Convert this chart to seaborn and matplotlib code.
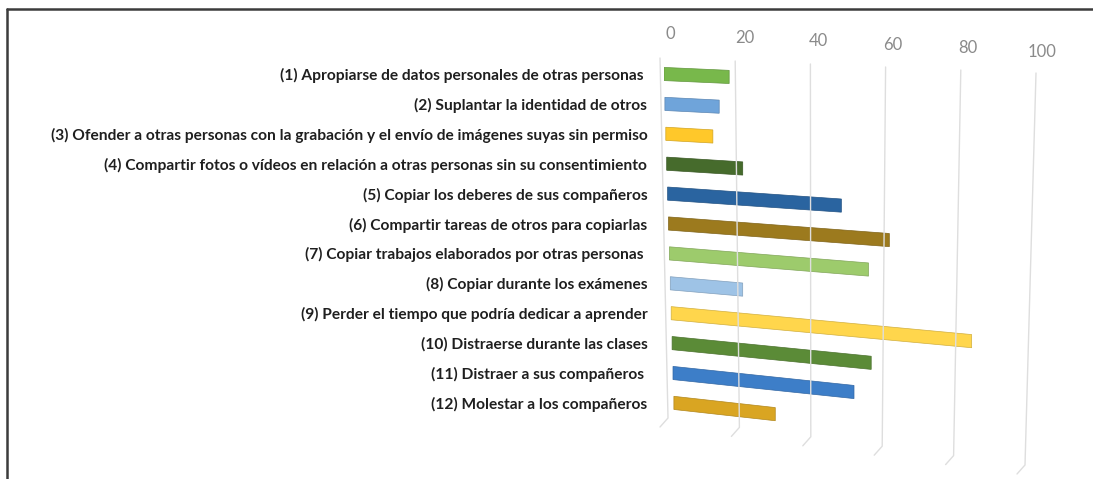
import numpy as np
import pandas as pd
import matplotlib
matplotlib.use("Agg")
import matplotlib.pyplot as plt
from matplotlib.lines import Line2D
from matplotlib.transforms import Affine2D, IdentityTransform
import seaborn as sns

categories = [
    "(1) Apropiarse de datos personales de otras personas ",
    "(2) Suplantar la identidad de otros",
    "(3) Ofender a otras personas con la grabación y el envío de imágenes suyas sin permiso",
    "(4) Compartir fotos o vídeos en relación a otras personas sin su consentimiento",
    "(5) Copiar los deberes de sus compañeros",
    "(6) Compartir tareas de otros para copiarlas",
    "(7) Copiar trabajos elaborados por otras personas ",
    "(8) Copiar durante los exámenes",
    "(9) Perder el tiempo que podría dedicar a aprender",
    "(10) Distraerse durante las clases",
    "(11) Distraer a sus compañeros ",
    "(12) Molestar a los compañeros",
]
values = [18, 15, 13, 21, 48, 61, 55, 20, 83, 55, 50, 28]
colors = ["#78B84B", "#6FA4DA", "#FFC82A", "#466B2C", "#2A64A0", "#9C7A1E",
          "#9DCB6C", "#9EC3E6", "#FFD64C", "#5B8B37", "#3D7EC8", "#D9A522"]
xticks = [0, 20, 40, 60, 80, 100]

W, H = 1093, 479
sns.set_theme(style="white")
plt.rcParams["font.family"] = ["Lato", "DejaVu Sans"]

fig = plt.figure(figsize=(W / 100, H / 100), dpi=100)
fig.patch.set_facecolor("white")

# axes placement in pixels (top-left origin)
ax_left, ax_width = 664, 362
ax_top, ax_bottom = 14, 474
ax = fig.add_axes([ax_left / W, 1 - ax_bottom / H, ax_width / W, (ax_bottom - ax_top) / H])

df = pd.DataFrame({"label": categories, "value": values})
sns.barplot(data=df, y="label", x="value", hue="label", palette=colors,
            legend=False, width=0.44, orient="h", ax=ax, saturation=1)

ax.set_xlim(0, 100)
row0, spacing = 74, 29.9
ax.set_ylim((ax_bottom - row0) / spacing, (ax_top - row0) / spacing)
for s in ax.spines.values():
    s.set_visible(False)
ax.set_xlabel("")
ax.set_ylabel("")
ax.set_xticks([])
ax.tick_params(axis="y", length=0, pad=12)
for t in ax.get_yticklabels():
    t.set_fontsize(11.2)
    t.set_fontweight("bold")
    t.set_color("#1f1f1f")
ax.set_facecolor("none")

fig.canvas.draw()

def shade(c, f=0.82):
    r, g, b = matplotlib.colors.to_rgb(c)
    return (r * f, g * f, b * f)

# perspective-like shear on the bars
x0 = ax.transData.transform((0, 0))[0]
for i, p in enumerate(ax.patches):
    k = 0.045 + 0.006 * i
    shift = 0.9 * i
    M = np.array([[1, 0, shift], [-k, 1, k * x0], [0, 0, 1]])
    p.set_transform(ax.transData + Affine2D(M))
    p.set_edgecolor(shade(colors[i]))
    p.set_linewidth(0.5)
    p.set_zorder(3)

# slanted gridlines with floor kink and tick labels (display coords)
for v in xticks:
    xp = ax.transData.transform((v, 0))[0]
    x_top = xp + (-4 + 0.14 * v)
    x_bot = xp + (4 - 0.05 * v)
    y_top = H - (58 + 0.15 * v)
    y_kink = H - (418 + 0.47 * v)
    ln = Line2D([x_top, x_bot, x_bot - 8], [y_top, y_kink, y_kink - 9],
                transform=IdentityTransform(), color="#dedede", lw=1.0, zorder=1)
    fig.add_artist(ln)
    fig.text(x_top + 10 - 0.04 * v, H - (34 + 0.18 * v), str(v), transform=IdentityTransform(),
             ha="center", va="center", fontsize=12, color="#8a8a8a")

# outer frame (top and left)
fig.add_artist(Line2D([7 / W, 7 / W], [0, 1 - 9 / H], transform=fig.transFigure,
                      color="#3c3c3c", lw=1.8))
fig.add_artist(Line2D([7 / W, 1], [1 - 9 / H, 1 - 9 / H], transform=fig.transFigure,
                      color="#3c3c3c", lw=1.8))

fig.savefig("out.png", dpi=100, facecolor="white")
